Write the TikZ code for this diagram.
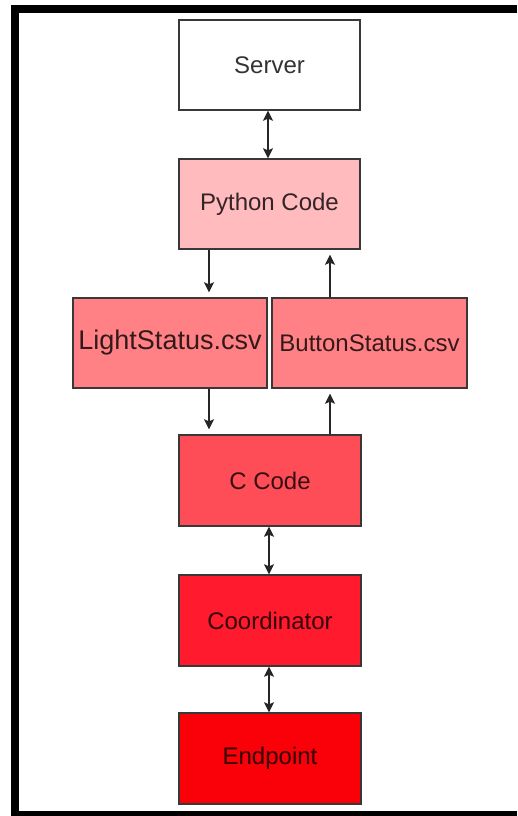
\documentclass[tikz,border=0pt]{standalone}
\usepackage{fontspec}
\setmainfont{Liberation Sans}
\usetikzlibrary{arrows.meta}
\definecolor{pyfill}{HTML}{FFBBBE}
\definecolor{csvfill}{HTML}{FF8185}
\definecolor{cfill}{HTML}{FF4D58}
\definecolor{coordfill}{HTML}{FF1A2D}
\definecolor{endfill}{HTML}{FA0008}
\tikzset{
  block/.style={draw=black!78, line width=1.4pt, minimum width=181pt, minimum height=90pt,
    inner sep=0pt, text opacity=0.8, font=\fontsize{24}{28}\selectfont},
  tip/.tip={Stealth[length=10pt,width=10pt,inset=2pt]},
  flow/.style={line width=1.6pt, draw=black!85, -tip},
  both/.style={line width=1.6pt, draw=black!85, tip-tip}
}
\begin{document}
\begin{tikzpicture}[x=1pt,y=-1pt]
\useasboundingbox (0,0) rectangle (517,816);
\fill[white] (0,0) rectangle (517,816);
% frame
\fill[black] (11,5) rectangle (19,816);
\fill[black] (11,5) rectangle (517,13);
\fill[black] (11,811) rectangle (517,816);

% blocks
\node[block, fill=white] (srv) at (269.5,65) {Server};
\node[block, fill=pyfill] (py) at (269.5,204) {Python Code};
\node[block, fill=csvfill, minimum width=194pt, font=\fontsize{27}{31}\selectfont] (lt) at (170,343) {LightStatus.csv};
\node[block, fill=csvfill, minimum width=195pt] (bt) at (369.5,343) {ButtonStatus.csv};
\node[block, fill=cfill, minimum width=182pt, minimum height=91pt] (cc) at (270,480.5) {C Code};
\node[block, fill=coordfill, minimum width=182pt, minimum height=91pt] (co) at (270,620.5) {Coordinator};
\node[block, fill=endfill, minimum width=182pt, minimum height=91pt] (ep) at (270,758.5) {Endpoint};

% connectors
\draw[both] ([xshift=-1.5pt]srv.south) -- ([xshift=-1.5pt]py.north);
\draw[flow, shorten >=5pt] ([xshift=-60.5pt]py.south) -- ([xshift=-60.5pt]py.south |- lt.north);
\draw[flow, shorten >=5pt] ([xshift=-39.5pt]bt.north) -- ([xshift=-39.5pt]bt.north |- py.south);
\draw[flow, shorten >=5pt] ([xshift=39pt]lt.south) -- ([xshift=39pt]lt.south |- cc.north);
\draw[flow, shorten >=5pt] ([xshift=60pt]cc.north) -- ([xshift=60pt]cc.north |- bt.south);
\draw[both] ([xshift=-1pt]cc.south) -- ([xshift=-1pt]co.north);
\draw[both] ([xshift=-1pt]co.south) -- ([xshift=-1pt]ep.north);
\end{tikzpicture}
\end{document}
